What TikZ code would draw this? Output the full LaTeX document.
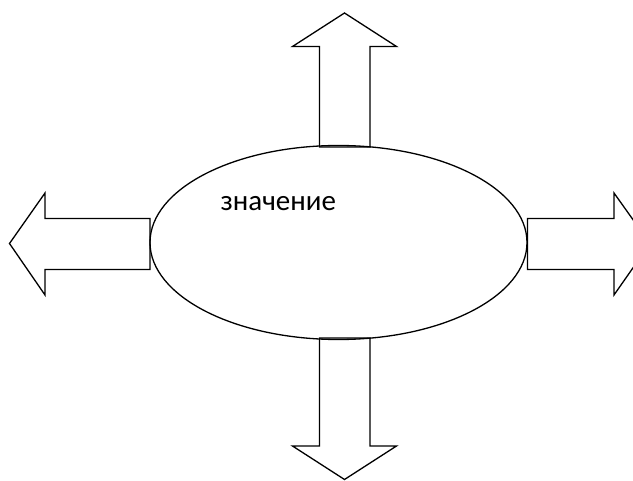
\documentclass[tikz,border=0pt]{standalone}
\usepackage{fontspec}
\setmainfont{Carlito}
\begin{document}
\begin{tikzpicture}[x=1pt, y=-1pt, line join=miter]
			%%%%% START %%%%%
			\clip (0, 0) rectangle (633, 481);
			
			% up
			\draw[line width=1.3pt, fill=white] (319.5, 147) -- (319.5, 46.5) -- (292.5, 46.5) -- (344.5, 13) -- (396.5, 46.5) -- (370, 46.5) -- (370, 147) -- cycle;
			% down
			\draw[line width=1.3pt, fill=white] (319.5, 338) -- (319.5, 446) -- (292.5, 446) -- (344.5, 479.5) -- (396.5, 446) -- (370, 446) -- (370, 338) -- cycle;
			% left
			\draw[line width=1.3pt, fill=white] (150, 218.5) -- (45, 218.5) -- (45, 193) -- (9.5, 243.5) -- (45, 295) -- (45, 269.5) -- (150, 269.5) -- cycle;
			% right
			\draw[line width=1.3pt, fill=white] (527.5, 218.5) -- (614, 218.5) -- (614, 193) -- (650, 243.5) -- (614, 295) -- (614, 269.5) -- (527.5, 269.5) -- cycle;
			
			\draw[line width=1.3pt] (338.5, 242.5) ellipse (188.5 and 97);
			
			\node[anchor=base west, inner sep=0pt, font=\fontsize{29}{31}\selectfont] (val) at (220.5, 210.5) {значение};
			%%%%% END %%%%%
		\end{tikzpicture}
\end{document}
